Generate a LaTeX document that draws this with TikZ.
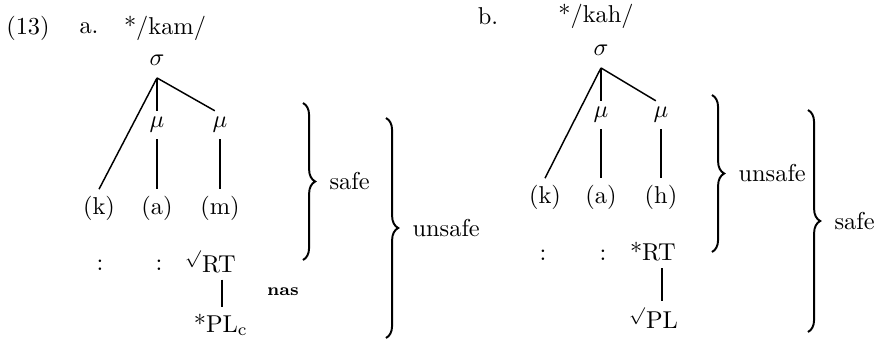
\documentclass[tikz,border=0pt]{standalone}
\usepackage{amsmath}
\usepackage{amssymb}
\usetikzlibrary{decorations.pathreplacing}

\begin{document}
\begin{tikzpicture}[x=0.41pt, y=-0.41pt,
  every node/.style={inner sep=2.5pt},
  syl/.style={inner sep=5pt},
  tree/.style={line width=0.6pt},
  grp/.style={decorate, decoration={brace, amplitude=5pt}, line width=0.8pt}]
\useasboundingbox (0,0) rectangle (880,341);
% (13a) */kam/
\node (ex) at (28,28) {(13)};
\node (la) at (89,28) {a.};
\node (fa) at (165,28) {*/kam/};
\node[syl] (sa) at (157,60) {$\sigma$};
\node (mua1) at (157,125) {$\mu$};
\node (mua2) at (220,125) {$\mu$};
\node (ka) at (99,208) {(k)};
\node (aa) at (157,208) {(a)};
\node (ma) at (220,208) {(m)};
\node[anchor=base] (ca1) at (100,270) {:};
\node[anchor=base] (ca2) at (159,270) {:};
\node (rta) at (219,262) {\llap{$^\surd$}RT};
\node (nas) at (283,292) {\scriptsize\bfseries nas};
\node (pla) at (222,325) {\llap{*}PL\rlap{$_\mathrm{c}$}};
\draw[tree] (sa.south) -- (ka.north);
\draw[tree] (sa.south) -- (mua1.north);
\draw[tree] (sa.south) -- (mua2.110);
\draw[tree] (mua1.south) -- (aa.north);
\draw[tree] (mua2.south) -- (ma.north);
\draw[tree] (pla.north |- rta.south) -- (pla.north);
\draw[grp] (303,103) -- (303,260) node[midway, right=8pt] {safe};
\draw[grp] (386,118) -- (386,338) node[midway, right=8pt] {unsafe};
% (13b) */kah/
\node (lb) at (488,16) {b.};
\node (fb) at (596,16) {*/kah/};
\node[syl] (sb) at (601,50) {$\sigma$};
\node (mub1) at (601,115) {$\mu$};
\node (mub2) at (661,115) {$\mu$};
\node (kb) at (545,197) {(k)};
\node (ab) at (601,197) {(a)};
\node (hb) at (661,197) {(h)};
\node[anchor=base] (cb1) at (543,260) {:};
\node[anchor=base] (cb2) at (603,260) {:};
\node (rtb) at (659,252) {\llap{*}RT};
\node (plb) at (662,318) {\llap{$^\surd$}PL};
\draw[tree] (sb.south) -- (kb.north);
\draw[tree] (sb.south) -- (mub1.north);
\draw[tree] (sb.south) -- (mub2.110);
\draw[tree] (mub1.south) -- (ab.north);
\draw[tree] (mub2.south) -- (hb.north);
\draw[tree] (plb.north |- rtb.south) -- (plb.north);
\draw[grp] (712,95) -- (712,252) node[midway, right=8pt] {unsafe};
\draw[grp] (808,110) -- (808,332) node[midway, right=8pt] {safe};
\end{tikzpicture}
\end{document}
